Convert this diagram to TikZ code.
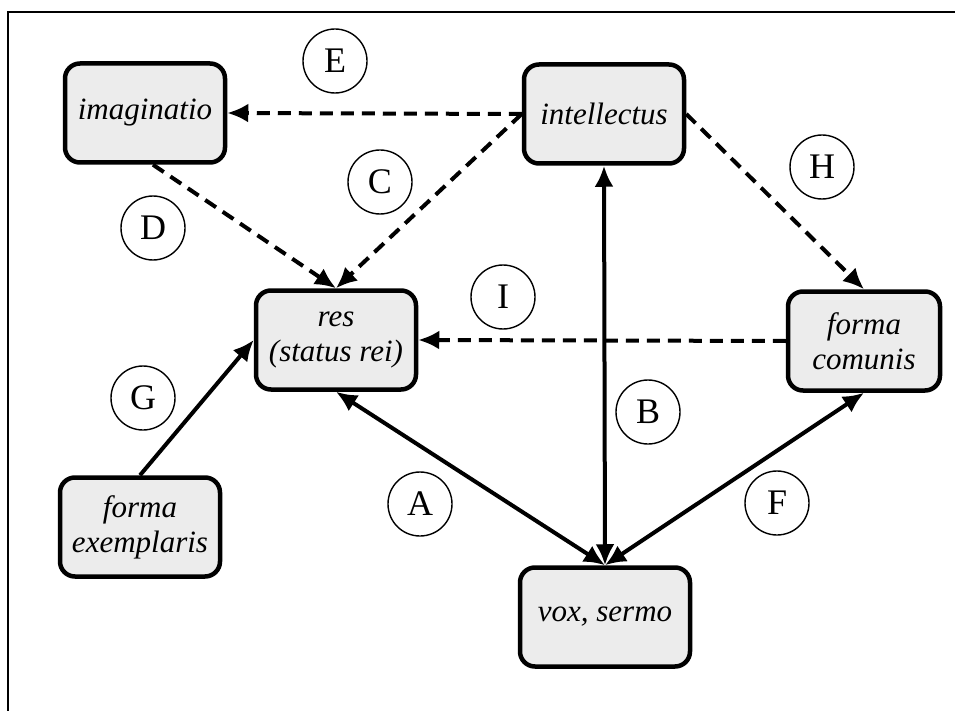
\documentclass[tikz,border=0pt]{standalone}
\usepackage{fontspec}
\setmainfont{Liberation Serif}
\usetikzlibrary{arrows.meta}
\definecolor{boxgray}{RGB}{236,236,236}

\begin{document}
\begin{tikzpicture}[
  x=1pt, y=-1pt,
  box/.style={draw, line width=4.5pt, rounded corners=15pt, fill=boxgray, minimum width=160pt, minimum height=99pt, align=center, font=\fontsize{31}{35}\selectfont\itshape},
  lbl/.style={circle, draw, line width=1.4pt, minimum size=64pt, inner sep=0pt, font=\fontsize{36}{36}\selectfont},
  link/.style={line width=4pt, -{Latex[length=21pt,width=19pt]}},
  dlink/.style={link, dash pattern=on 13pt off 8pt},
  twoway/.style={line width=4pt, {Latex[length=21pt,width=19pt]}-{Latex[length=21pt,width=19pt]}}
]
\useasboundingbox (0,0) rectangle (955,711);
\draw[line width=1.5pt] (8,711) -- (8,12) -- (955,12);

\node[box] (imag) at (145,113) {imaginatio};
\node[box] (intel) at (604,114) {intellectus};
\node[box] (res) at (336,340) {res\\(status rei)};
\node[box, minimum width=152pt] (fcom) at (864,341) {forma\\comunis};
\node[box] (fex) at (140,527) {forma\\exemplaris};
\node[box, minimum width=170pt] (vox) at (605,617) {vox, sermo};

\node[lbl] (lE) at (335,61) {E};
\node[lbl] (lC) at (380,182) {C};
\node[lbl] (lD) at (153,228) {D};
\node[lbl] (lH) at (822,167) {H};
\node[lbl] (lI) at (503,297) {I};
\node[lbl] (lB) at (648,412) {B};
\node[lbl] (lG) at (143,398) {G};
\node[lbl] (lA) at (420,504) {A};
\node[lbl] (lF) at (777,503) {F};

\draw[dlink] (intel.west) -- (imag.east);
\draw[dlink] (intel.west) -- (res.north);
\draw[dlink] ([xshift=8pt]imag.south) -- (res.north);
\draw[dlink] (intel.east) -- (fcom.north);
\draw[dlink] (fcom.west) -- (res.east);
\draw[twoway] (intel.south) -- (vox.north);
\draw[twoway] (res.south) -- (vox.north);
\draw[twoway] (fcom.south) -- (vox.north);
\draw[link] (fex.north) -- (res.west);
\end{tikzpicture}
\end{document}
